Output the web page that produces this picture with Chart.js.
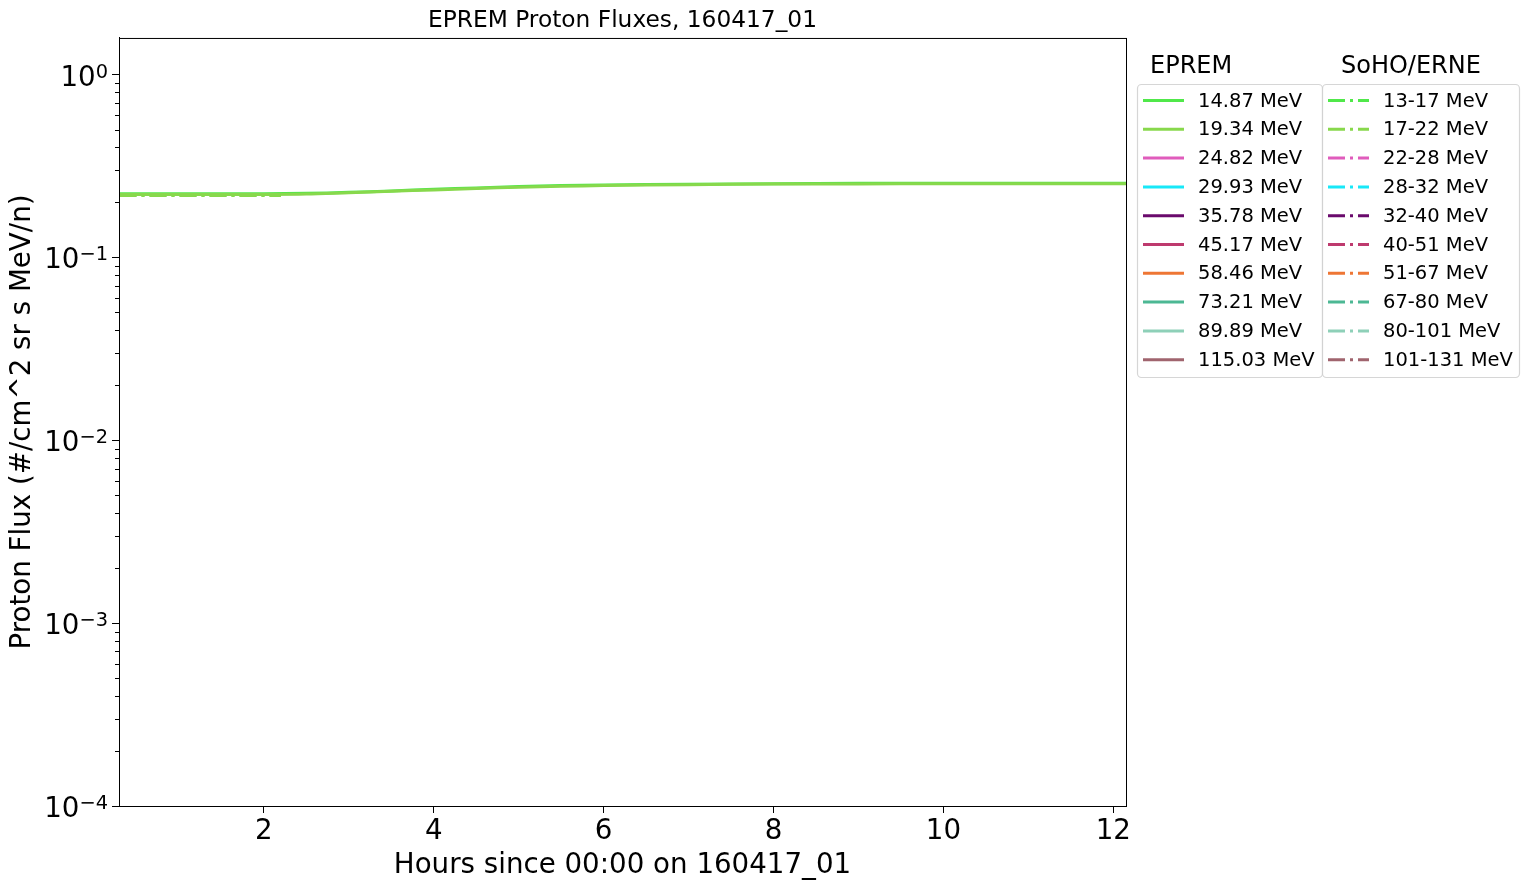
<!DOCTYPE html>
<html>
<head>
<meta charset="utf-8">
<script src="https://cdn.jsdelivr.net/npm/chart.js@4.4.1/dist/chart.umd.min.js"></script>
<style>
  html, body { margin: 0; padding: 0; background: #fff; }
  #wrap { width: 1529px; height: 888px; }
</style>
</head>
<body>
<div id="wrap"><canvas id="fluxChart" width="1529" height="888"></canvas></div>
<script>
// ========== data ==========
const hours = [0.3, 1, 2, 2.5, 3, 3.5, 4, 4.5, 5, 5.5, 6, 7, 8, 9, 10, 11, 12.15];
const flux_14_87 = [0.223, 0.223, 0.223, 0.224, 0.227, 0.231, 0.236, 0.240, 0.244, 0.247, 0.249, 0.251, 0.253, 0.254, 0.254, 0.254, 0.254];
const flux_19_34 = [0.221, 0.221, 0.221, 0.222, 0.226, 0.230, 0.234, 0.238, 0.242, 0.245, 0.247, 0.250, 0.252, 0.252, 0.253, 0.253, 0.253];

const sohoHours = [0.3, 0.8, 1.3, 1.8, 2.2];
const soho_13_17 = [0.219, 0.219, 0.219, 0.219, 0.219];
const soho_17_22 = [0.218, 0.218, 0.218, 0.218, 0.218];

const epremLabels = ['14.87 MeV', '19.34 MeV', '24.82 MeV', '29.93 MeV', '35.78 MeV',
    '45.17 MeV', '58.46 MeV', '73.21 MeV', '89.89 MeV', '115.03 MeV'];
const sohoLabels = ['13-17 MeV', '17-22 MeV', '22-28 MeV', '28-32 MeV', '32-40 MeV',
    '40-51 MeV', '51-67 MeV', '67-80 MeV', '80-101 MeV', '101-131 MeV'];
const colors = ['#50e84a', '#88d84c', '#e05cbc', '#18e8f8', '#6a0a6c',
    '#be3a6e', '#ee7634', '#4cb894', '#8ed0b8', '#a0646e'];

const yTicks = [1e-4, 1e-3, 1e-2, 1e-1, 1e0];
const xTicks = [2, 4, 6, 8, 10, 12];

const DASHDOT = [17, 5, 3, 5];
const FONT = "'DejaVu Sans', sans-serif";

function pts(xs, ys) {
    return xs.map((x, i) => ({ x, y: ys[i] }));
}

const eprem = [flux_14_87, flux_19_34];
const soho = [soho_13_17, soho_17_22];

const datasets = [];
epremLabels.forEach((lab, i) => {
    datasets.push({
        label: 'EPREM ' + lab,
        data: eprem[i] ? pts(hours, eprem[i]) : [],
        borderColor: colors[i],
        borderWidth: 3,
        pointRadius: 0,
        tension: 0.3,
        order: 20 - i
    });
});
sohoLabels.forEach((lab, i) => {
    datasets.push({
        label: 'SoHO ' + lab,
        data: soho[i] ? pts(sohoHours, soho[i]) : [],
        borderColor: colors[i],
        borderWidth: 3,
        borderDash: DASHDOT,
        pointRadius: 0,
        order: 40 - i
    });
});

// ========== 框线 + 次刻度 + 对数刻度标签 ==========
const framePlugin = {
    id: 'frame',
    afterDraw(chart) {
        const { ctx, chartArea: a, scales } = chart;
        ctx.save();
        ctx.strokeStyle = '#000';
        ctx.lineWidth = 1;
        ctx.strokeRect(a.left + 0.5, a.top + 0.5, a.right - a.left, a.bottom - a.top);
        const y = scales.y;
        ctx.beginPath();
        for (let k = -4; k <= 0; k++) {
            for (let m = 2; m <= 9; m++) {
                const v = m * Math.pow(10, k);
                if (v > y.max) continue;
                const py = Math.round(y.getPixelForValue(v)) + 0.5;
                ctx.moveTo(a.left - 4, py);
                ctx.lineTo(a.left, py);
            }
        }
        ctx.stroke();

        // 10^k labels, exponent as superscript
        ctx.fillStyle = '#000';
        ctx.textBaseline = 'alphabetic';
        ctx.textAlign = 'right';
        yTicks.forEach(v => {
            const py = y.getPixelForValue(v);
            const k = Math.round(Math.log10(v));
            const exp = k < 0 ? '\u2212' + Math.abs(k) : String(k);
            const right = a.left - 11;
            ctx.font = '19.4px ' + FONT;
            const ew = ctx.measureText(exp).width;
            ctx.fillText(exp, right, py + 3);
            ctx.font = '27.7px ' + FONT;
            ctx.fillText('10', right - ew, py + 11);
        });
        ctx.restore();
    }
};

// ========== 图例 ==========
const legendPlugin = {
    id: 'twoLegends',
    afterDraw(chart) {
        const ctx = chart.ctx;
        const boxes = [
            { title: 'EPREM', labels: epremLabels, x0: 1137, x1: 1322, titleX: 1150, dash: [] },
            { title: 'SoHO/ERNE', labels: sohoLabels, x0: 1322, x1: 1519, titleX: 1341, dash: DASHDOT }
        ];
        ctx.save();
        boxes.forEach(b => {
            ctx.font = '24px ' + FONT;
            ctx.fillStyle = '#000';
            ctx.textBaseline = 'middle';
            ctx.textAlign = 'left';
            ctx.fillText(b.title, b.titleX, 67);

            ctx.strokeStyle = 'rgba(204,204,204,0.8)';
            ctx.lineWidth = 1.2;
            ctx.setLineDash([]);
            ctx.beginPath();
            ctx.roundRect(b.x0 + 0.5, 84.5, b.x1 - b.x0, 293, 4);
            ctx.fillStyle = 'rgba(255,255,255,0.8)';
            ctx.fill();
            ctx.stroke();

            b.labels.forEach((lab, i) => {
                const cy = 100.5 + i * 28.8;
                ctx.strokeStyle = colors[i];
                ctx.lineWidth = 3;
                ctx.setLineDash(b.dash);
                ctx.beginPath();
                ctx.moveTo(b.x0 + 6, cy);
                ctx.lineTo(b.x0 + 47, cy);
                ctx.stroke();
                ctx.setLineDash([]);
                ctx.fillStyle = '#000';
                ctx.font = '19.5px ' + FONT;
                ctx.fillText(lab, b.x0 + 61, cy + 1);
            });
        });
        ctx.restore();
    }
};

new Chart(document.getElementById('fluxChart').getContext('2d'), {
    type: 'line',
    data: { datasets },
    options: {
        responsive: false,
        animation: false,
        layout: { padding: { left: 0, right: 403, top: 0, bottom: 0 } },
        plugins: {
            legend: { display: false },
            tooltip: { enabled: false },
            title: {
                display: true,
                text: 'EPREM Proton Fluxes, 160417_01',
                color: '#000',
                fullSize: false,
                font: { family: FONT, size: 23.3, weight: 'normal' },
                padding: { top: 7, bottom: 3 }
            }
        },
        scales: {
            x: {
                type: 'linear',
                min: 0.294,
                max: 12.15,
                afterBuildTicks: s => { s.ticks = xTicks.map(v => ({ value: v })); },
                afterFit: s => { s.height = 82; },
                grid: { drawOnChartArea: false, tickLength: 7, tickColor: '#000', color: '#000' },
                border: { color: '#000' },
                ticks: {
                    color: '#000',
                    padding: 2,
                    maxRotation: 0,
                    font: { family: FONT, size: 27.7 },
                    callback: v => String(v)
                },
                title: {
                    display: true,
                    text: 'Hours since 00:00 on 160417_01',
                    color: '#000',
                    font: { family: FONT, size: 27.7 },
                    padding: { top: 0, bottom: 6 }
                }
            },
            y: {
                type: 'logarithmic',
                min: 1e-4,
                max: 1.585,
                afterBuildTicks: s => { s.ticks = yTicks.map(v => ({ value: v })); },
                afterFit: s => { s.width = 119; },
                grid: { drawOnChartArea: false, tickLength: 7, tickColor: '#000', color: '#000' },
                border: { color: '#000' },
                ticks: {
                    color: '#000',
                    padding: 3,
                    font: { family: FONT, size: 25 },
                    callback: () => ''
                },
                title: {
                    display: true,
                    text: 'Proton Flux (#/cm^2 sr s MeV/n)',
                    color: '#000',
                    font: { family: FONT, size: 27.7 },
                    padding: { top: 6, bottom: 0 }
                }
            }
        }
    },
    plugins: [framePlugin, legendPlugin]
});
</script>
</body>
</html>
